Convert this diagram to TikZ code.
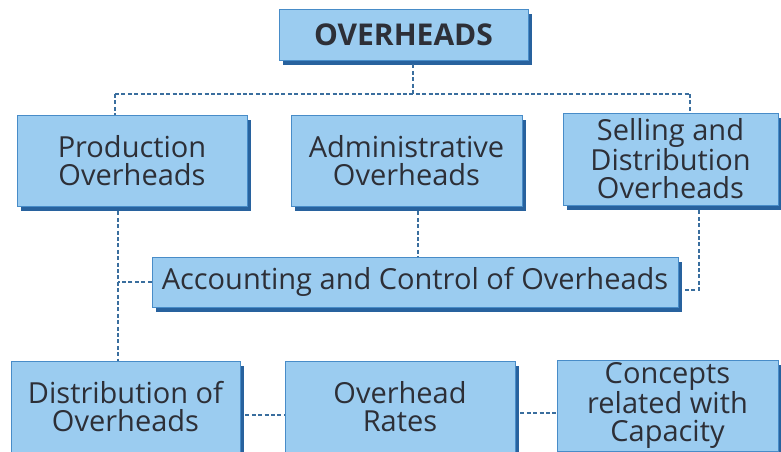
\documentclass[tikz,border=0pt]{standalone}
\usepackage{fontspec}
\setmainfont{Open Sans}
\usetikzlibrary{shadows,calc}
\definecolor{boxfill}{RGB}{155,204,240}
\definecolor{boxline}{RGB}{72,140,200}
\definecolor{boxshadow}{RGB}{40,98,158}
\definecolor{connc}{RGB}{58,110,158}
\definecolor{txt}{RGB}{45,47,55}
\tikzset{
  box/.style={draw=boxline, line width=0.8pt, fill=boxfill, align=center, text=txt,
    font=\fontsize{29}{28}\selectfont, inner sep=0pt,
    drop shadow={shadow xshift=4pt, shadow yshift=-5pt, fill=boxshadow, opacity=1}},
  conn/.style={draw=connc, line width=2.8pt, dash pattern=on 4pt off 2.4pt}
}
\begin{document}
\begin{tikzpicture}[x=1pt,y=-1pt]
\useasboundingbox (0,0) rectangle (781,452);
\node[box, minimum width=249pt, minimum height=51pt, font=\fontsize{30}{30}\selectfont\bfseries] (top) at (403.5,34.5) {OVERHEADS};
\node[box, minimum width=230pt, minimum height=91pt] (prod) at (132,160.5) {Production\\Overheads};
\node[box, minimum width=231pt, minimum height=91pt] (admin) at (406.5,160.5) {Administrative\\Overheads};
\node[box, minimum width=215pt, minimum height=92pt] (sell) at (670.5,159) {Selling and\\Distribution\\Overheads};
\node[box, minimum width=526pt, minimum height=50pt] (acc) at (415,282) {Accounting and Control of Overheads};
\node[box, minimum width=229pt, minimum height=91pt] (dist) at (125.5,406.5) {Distribution of\\Overheads};
\node[box, minimum width=230pt, minimum height=91pt] (rates) at (400,406.5) {Overhead\\Rates};
\node[box, minimum width=221pt, minimum height=91pt] (conc) at (667.5,405.5) {Concepts\\related with\\Capacity};
% top bus
\coordinate (jl) at (115,94);
\coordinate (jm) at (413,94);
\coordinate (jr) at (690,94);
\draw[conn] ([shift={(0,4)}]top.south -| jm) -- (jm);
\draw[conn] (jl) -- (jr);
\draw[conn] (jl) -- (jl |- prod.north);
\draw[conn] (jr) -- (jr |- sell.north);
% lower connections
\coordinate (pl) at (118,0);
\coordinate (al) at (418,0);
\coordinate (sl) at (699,0);
\draw[conn] ([shift={(0,5)}]prod.south -| pl) -- (dist.north -| pl);
\draw[conn] (acc.west) -- (acc.west -| pl);
\draw[conn] ([shift={(0,5)}]admin.south -| al) -- (acc.north -| al);
\coordinate (ae) at ($(acc.east)+(5,8)$);
\draw[conn] ([shift={(0,5)}]sell.south -| sl) |- (ae);
\draw[conn] ([shift={(5,8.5)}]dist.east) -- ([shift={(0,8.5)}]rates.west);
\draw[conn] ([shift={(5,6.5)}]rates.east) -- ([shift={(0,7.5)}]conc.west);
\end{tikzpicture}
\end{document}
